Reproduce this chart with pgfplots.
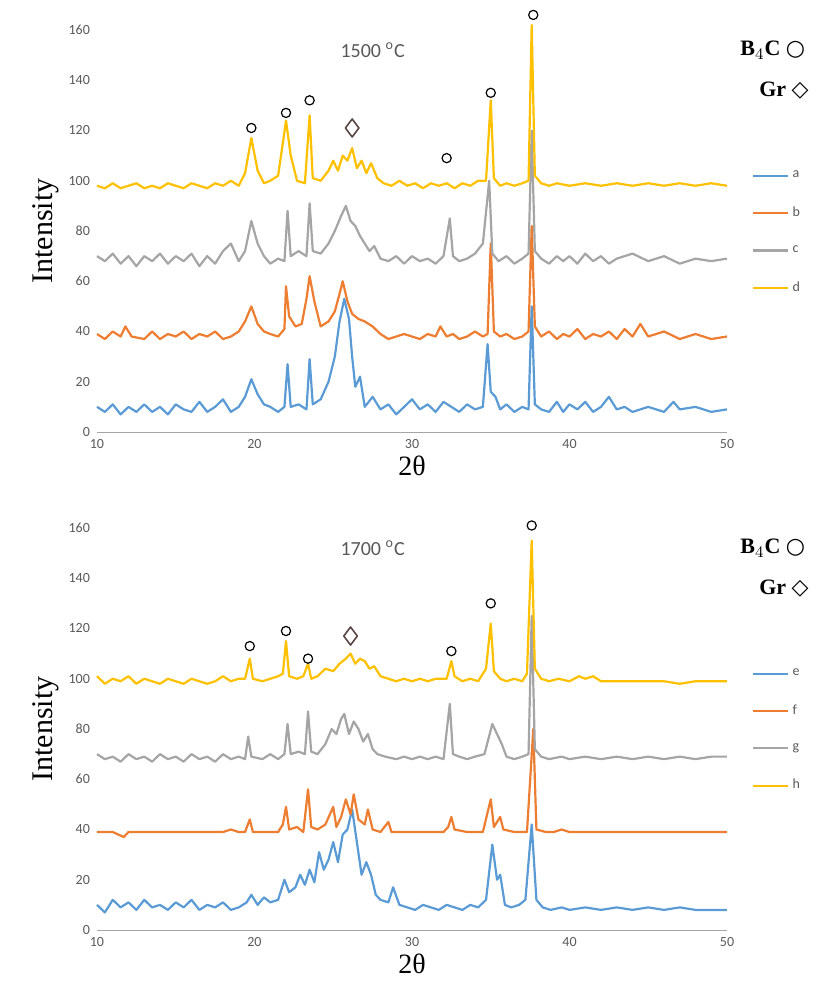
\documentclass[border=0pt]{standalone}
\usepackage{pgfplots}
\pgfplotsset{compat=1.18}
\usepackage{fontspec}
\setmainfont{Carlito}
\newfontfamily\serif{Liberation Serif}
\newfontfamily\sym{DejaVu Sans}
\definecolor{cA}{HTML}{5B9BD5}
\definecolor{cB}{HTML}{ED7D31}
\definecolor{cC}{HTML}{A5A5A5}
\definecolor{cD}{HTML}{FFC000}
\definecolor{tk}{HTML}{595959}
\definecolor{dm}{HTML}{5A4646}
\pgfplotsset{
  xrd/.style={
    scale only axis, width=315pt, height=201pt,
    xmin=10, xmax=50, ymin=0, ymax=160,
    xtick={10,20,...,50}, ytick={0,20,...,160},
    axis x line=bottom, axis y line=left,
    x axis line style={draw=cC,-},
    y axis line style={draw=none},
    major tick length=0pt,
    tick label style={font=\fontsize{7}{8}\selectfont, text=tk},
    /pgf/number format/assume math mode=true,
    ylabel={\serif\fontsize{15}{16}\selectfont Intensity},
    ylabel style={yshift=-2pt},
    xlabel={\serif\fontsize{14}{15}\selectfont 2θ},
    xlabel style={yshift=3pt},
    clip=false,
    legend style={at={(1.03,0.67)}, anchor=north west, draw=none, fill=none,
      font=\fontsize{7}{8}\selectfont, row sep=9pt, text=tk},
    legend cell align=left,
    every axis plot/.append style={line width=1.1pt, line join=round},
  }
}
\begin{document}
\begin{tikzpicture}
\path[use as bounding box] (-48.5pt,-33pt) rectangle (360.5pt,465pt);
% top panel
\begin{axis}[xrd, at={(0pt,249pt)}]
\addplot[cA] coordinates {(10,10)(10.5,8)(11,11)(11.5,7)(12,10)(12.5,8)(13,11)(13.5,8)(14,10)(14.5,7)(15,11)(15.5,9)(16,8)(16.5,12)(17,8)(17.5,10)(18,13)(18.5,8)(19,10)(19.4,14)(19.8,21)(20.2,15)(20.6,11)(21,10)(21.5,8)(21.9,10)(22.1,27)(22.3,10)(22.8,11)(23.3,9)(23.5,29)(23.7,11)(24.2,13)(24.7,20)(25.1,30)(25.4,44)(25.7,53)(26,45)(26.2,30)(26.4,18)(26.7,22)(27,10)(27.5,14)(28,9)(28.5,11)(29,7)(29.5,10)(30,13)(30.5,9)(31,11)(31.5,8)(32,12)(32.5,10)(33,8)(33.5,11)(34,9)(34.5,10)(34.8,35)(35,16)(35.3,14)(35.6,9)(36,11)(36.5,8)(37,10)(37.4,9)(37.6,50)(37.8,11)(38.2,9)(38.7,8)(39.2,12)(39.6,8)(40,11)(40.5,9)(41,12)(41.5,8)(42,10)(42.5,14)(43,9)(43.5,10)(44,8)(45,10)(46,8)(46.6,12)(47,9)(48,10)(49,8)(50,9)};
\addplot[cB] coordinates {(10,39)(10.5,37)(11,40)(11.5,38)(11.8,42)(12.2,38)(13,37)(13.5,40)(14,37)(14.5,39)(15,38)(15.5,40)(16,37)(16.5,39)(17,38)(17.5,40)(18,37)(18.5,38)(19,40)(19.4,44)(19.8,50)(20.2,43)(20.6,40)(21,39)(21.5,38)(21.9,41)(22.0,58)(22.2,46)(22.6,42)(23,43)(23.3,53)(23.5,62)(23.8,52)(24.2,42)(24.7,44)(25.1,48)(25.4,55)(25.6,60)(25.9,52)(26.2,47)(26.6,45)(27,44)(27.5,42)(28,39)(28.5,37)(29,38)(29.5,39)(30,38)(30.5,37)(31,39)(31.5,38)(31.8,42)(32.2,38)(32.6,39)(33,37)(33.5,38)(34,40)(34.5,38)(34.8,39)(35.0,75)(35.2,40)(35.6,38)(36,39)(36.5,37)(37,38)(37.4,40)(37.6,82)(37.8,42)(38.2,38)(38.7,40)(39.2,37)(39.6,39)(40,38)(40.5,41)(41,37)(41.5,39)(42,38)(42.5,40)(43,37)(43.5,41)(44,38)(44.5,43)(45,38)(46,40)(47,37)(48,39)(49,37)(50,38)};
\addplot[cC] coordinates {(10,70)(10.5,68)(11,71)(11.5,67)(12,70)(12.5,66)(13,70)(13.5,68)(14,71)(14.5,67)(15,70)(15.5,68)(16,71)(16.5,66)(17,70)(17.5,67)(18,72)(18.5,75)(19,68)(19.4,72)(19.8,84)(20.2,75)(20.6,70)(21,67)(21.5,69)(21.9,68)(22.1,88)(22.3,70)(22.8,72)(23.3,70)(23.5,91)(23.7,72)(24.2,71)(24.7,75)(25.1,80)(25.5,86)(25.8,90)(26.1,84)(26.4,82)(26.7,78)(27,75)(27.3,72)(27.6,74)(28,69)(28.5,68)(29,70)(29.5,67)(30,70)(30.5,68)(31,69)(31.5,67)(32,70)(32.4,85)(32.6,70)(33,68)(33.5,69)(34,71)(34.5,75)(34.9,100)(35.1,71)(35.5,68)(36,70)(36.5,67)(37,69)(37.4,71)(37.6,120)(37.8,72)(38.2,69)(38.7,67)(39.2,70)(39.6,68)(40,70)(40.5,67)(41,71)(41.5,68)(42,70)(42.5,67)(43,69)(44,71)(45,68)(46,70)(47,67)(48,69)(49,68)(50,69)};
\addplot[cD] coordinates {(10,98)(10.5,97)(11,99)(11.5,97)(12,98)(12.5,99)(13,97)(13.5,98)(14,97)(14.5,99)(15,98)(15.5,97)(16,99)(16.5,98)(17,97)(17.5,99)(18,98)(18.5,100)(19,98)(19.4,103)(19.8,117)(20.2,104)(20.6,99)(21,100)(21.5,102)(21.8,115)(22.0,124)(22.3,110)(22.7,100)(23.2,99)(23.5,126)(23.7,101)(24.2,100)(24.7,104)(25,108)(25.3,104)(25.6,110)(25.9,108)(26.2,113)(26.5,105)(26.8,108)(27.1,103)(27.4,107)(27.8,101)(28.2,99)(28.7,98)(29.2,100)(29.7,98)(30.2,99)(30.7,97)(31.2,99)(31.7,98)(32.2,99)(32.7,97)(33.2,99)(33.7,98)(34.2,100)(34.7,100)(35.0,132)(35.2,101)(35.6,98)(36,99)(36.5,98)(37,99)(37.4,100)(37.6,162)(37.8,102)(38.2,99)(38.7,98)(39.2,99)(40,98)(41,99)(42,98)(43,99)(44,98)(45,99)(46,98)(47,99)(48,98)(49,99)(50,98)};
\legend{a,b,c,d}
\addplot[only marks, mark=o, mark size=2.3pt, black, line width=0.6pt, forget plot] coordinates {(19.8,121)(22,127)(23.5,132)(32.2,109)(35,135)(37.7,166)};
\addplot[only marks, mark=diamond, mark size=4.5pt, dm, line width=0.8pt, forget plot] coordinates {(26.2,121)};
\node[font=\fontsize{10}{12}\selectfont, text=tk] at (axis cs:27.5,152) {1500 $^{\mathrm{o}}$C};
\node[anchor=west, font=\serif\bfseries\fontsize{11}{12}\selectfont] at (rel axis cs:1.01,0.95) {B$_4$C {\sym ○}};
\node[anchor=west, font=\serif\bfseries\fontsize{11}{12}\selectfont] at (rel axis cs:1.04,0.85) {Gr {\sym ◇}};
\end{axis}
% bottom panel
\begin{axis}[xrd, at={(0pt,0pt)}]
\addplot[cA] coordinates {(10,10)(10.5,7)(11,12)(11.5,9)(12,11)(12.5,8)(13,12)(13.5,9)(14,10)(14.5,8)(15,11)(15.5,9)(16,12)(16.5,8)(17,10)(17.5,9)(18,11)(18.5,8)(19,9)(19.5,11)(19.8,14)(20.2,10)(20.6,13)(21,11)(21.5,12)(21.9,20)(22.2,15)(22.6,17)(22.9,22)(23.2,18)(23.5,24)(23.8,19)(24.1,31)(24.4,24)(24.7,28)(25,35)(25.3,27)(25.6,38)(25.9,40)(26.2,48)(26.5,35)(26.8,22)(27.1,27)(27.4,22)(27.7,14)(28,12)(28.5,11)(28.8,17)(29.2,10)(29.7,9)(30.2,8)(30.7,10)(31.2,9)(31.7,8)(32.2,10)(32.7,9)(33.2,8)(33.7,10)(34.2,9)(34.7,12)(35.1,34)(35.4,20)(35.6,22)(35.9,10)(36.3,9)(36.8,10)(37.2,12)(37.6,42)(37.9,12)(38.3,9)(38.8,8)(39.5,9)(40,8)(41,9)(42,8)(43,9)(44,8)(45,9)(46,8)(47,9)(48,8)(49,8)(50,8)};
\addplot[cB] coordinates {(10,39)(11,39)(11.7,37)(12,39)(13,39)(14,39)(15,39)(16,39)(17,39)(18,39)(18.5,40)(19,39)(19.4,39)(19.7,44)(19.9,39)(20.5,39)(21,39)(21.5,39)(21.8,42)(22,49)(22.2,40)(22.7,41)(23.1,39)(23.4,56)(23.6,41)(24,40)(24.5,42)(25,49)(25.2,41)(25.5,45)(25.8,52)(26.1,46)(26.3,54)(26.6,44)(27,42)(27.2,48)(27.5,40)(28,39)(28.5,43)(28.7,39)(29,39)(30,39)(31,39)(32,39)(32.3,41)(32.5,45)(32.7,40)(33.5,39)(34.5,39)(35,52)(35.2,41)(35.6,45)(35.8,40)(36.5,39)(37.3,39)(37.7,80)(37.9,40)(38.5,39)(39,39)(39.5,40)(40,39)(42,39)(44,39)(46,39)(48,39)(50,39)};
\addplot[cC] coordinates {(10,70)(10.5,68)(11,69)(11.5,67)(12,70)(12.5,68)(13,69)(13.5,67)(14,70)(14.5,68)(15,69)(15.5,67)(16,70)(16.5,68)(17,69)(17.5,67)(18,70)(18.5,68)(19,69)(19.4,68)(19.6,77)(19.8,69)(20.5,68)(21,70)(21.5,68)(21.9,70)(22.1,82)(22.3,70)(22.8,71)(23.2,70)(23.4,87)(23.6,71)(24,70)(24.5,74)(24.9,80)(25.2,78)(25.5,84)(25.7,86)(26,78)(26.3,83)(26.6,80)(26.9,75)(27.2,78)(27.5,72)(27.8,70)(28.3,69)(29,68)(29.5,69)(30,68)(30.5,69)(31,68)(31.5,69)(32,68)(32.4,90)(32.6,70)(33,69)(33.5,68)(34,69)(34.6,70)(35.1,82)(35.4,78)(35.7,74)(36,69)(36.5,68)(37,69)(37.4,70)(37.6,125)(37.8,72)(38.2,69)(38.7,68)(39.5,69)(40,68)(41,69)(42,68)(43,69)(44,68)(45,69)(46,68)(47,69)(48,68)(49,69)(50,69)};
\addplot[cD] coordinates {(10,101)(10.5,98)(11,100)(11.5,99)(12,101)(12.5,98)(13,100)(13.5,99)(14,98)(14.5,100)(15,99)(15.5,98)(16,100)(16.5,99)(17,98)(17.5,99)(18,101)(18.5,99)(19,100)(19.4,100)(19.7,108)(19.9,100)(20.5,99)(21,100)(21.5,101)(21.8,102)(22,115)(22.2,101)(22.7,100)(23.1,101)(23.4,106)(23.6,100)(24,101)(24.5,104)(25,103)(25.4,106)(25.8,108)(26.1,110)(26.4,106)(26.7,108)(27,107)(27.3,104)(27.6,105)(28,101)(28.5,100)(29,99)(29.5,100)(30,99)(30.5,100)(31,99)(31.5,100)(32.2,100)(32.5,107)(32.7,101)(33.2,99)(33.7,100)(34.2,99)(34.7,104)(35,122)(35.2,103)(35.6,100)(36,99)(36.5,100)(37,99)(37.3,102)(37.6,155)(37.8,104)(38.2,100)(38.7,99)(39.3,100)(40,99)(40.6,101)(41,100)(41.5,101)(42,99)(43,99)(44,99)(45,99)(46,99)(47,98)(48,99)(49,99)(50,99)};
\legend{e,f,g,h}
\addplot[only marks, mark=o, mark size=2.3pt, black, line width=0.6pt, forget plot] coordinates {(19.7,113)(22,119)(23.4,108)(32.5,111)(35,130)(37.6,161)};
\addplot[only marks, mark=diamond, mark size=4.5pt, dm, line width=0.8pt, forget plot] coordinates {(26.1,117)};
\node[font=\fontsize{10}{12}\selectfont, text=tk] at (axis cs:27.5,152) {1700 $^{\mathrm{o}}$C};
\node[anchor=west, font=\serif\bfseries\fontsize{11}{12}\selectfont] at (rel axis cs:1.01,0.95) {B$_4$C {\sym ○}};
\node[anchor=west, font=\serif\bfseries\fontsize{11}{12}\selectfont] at (rel axis cs:1.04,0.85) {Gr {\sym ◇}};
\end{axis}
\end{tikzpicture}
\end{document}
